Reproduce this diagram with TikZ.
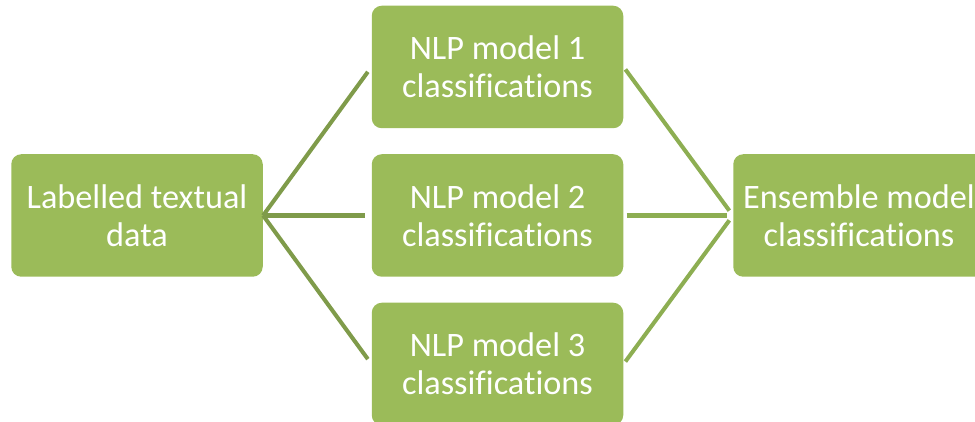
\documentclass[tikz,border=0pt]{standalone}
\usepackage{fontspec}
\setmainfont{Carlito}[Ligatures=NoCommon]
\usetikzlibrary{positioning, calc}
\definecolor{boxgreen}{HTML}{9BBB59}
\definecolor{linkdark}{HTML}{7F9B4A}
\definecolor{linklight}{HTML}{8DAE52}

\begin{document}
\begin{tikzpicture}[
    every node/.style={font=\fontsize{19.5}{21.8}\selectfont, text=white},
    box/.style={fill=boxgreen, rounded corners=0.2cm, align=center, minimum width=5.03cm, minimum height=2.45cm, inner sep=0pt},
    link/.style={line width=2.3pt}
]
\clip (0,0) rectangle (19.5,8.44);
\useasboundingbox (0,0) rectangle (19.5,8.44);

% Input and the three model boxes
\node[box] (data) at (2.74, 4.13) {Labelled textual\\data};
\node[box] (nlp1) at (9.95, 7.10) {NLP model 1\\classifications};
\node[box] (nlp2) at (9.95, 4.13) {NLP model 2\\classifications};
\node[box] (nlp3) at (9.95, 1.16) {NLP model 3\\classifications};

% Ensemble output
\node[box] (ens) at (17.18, 4.13) {Ensemble model\\classifications};

% Fan out from the data
\draw[link, linkdark, shorten >=0.12cm] (data.east) -- (nlp1.west);
\draw[link, linkdark, shorten >=0.12cm] (data.east) -- (nlp2.west);
\draw[link, linkdark, shorten >=0.12cm] (data.east) -- (nlp3.west);

% Fan in to the ensemble
\draw[link, linklight, shorten <=0.06cm, shorten >=0.12cm] (nlp1.east) -- (ens.west);
\draw[link, linklight, shorten <=0.06cm, shorten >=0.12cm] (nlp2.east) -- (ens.west);
\draw[link, linklight, shorten <=0.06cm, shorten >=0.12cm] (nlp3.east) -- (ens.west);
\end{tikzpicture}
\end{document}
